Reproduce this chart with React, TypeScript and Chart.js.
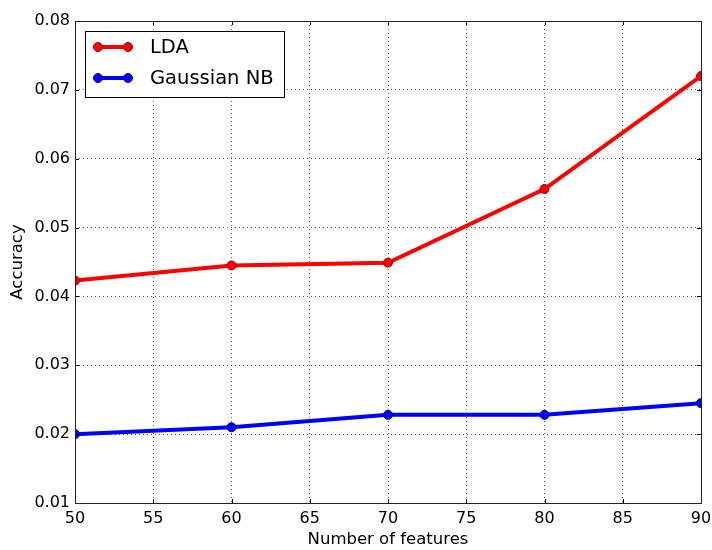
import React, { useEffect, useRef } from "react";
import { Chart, registerables } from "chart.js";

Chart.register(...registerables);

const features = [50, 60, 70, 80, 90];
const ldaAccuracy = [0.0423, 0.0445, 0.0449, 0.0556, 0.0720];
const gnbAccuracy = [0.0200, 0.0210, 0.0228, 0.0228, 0.0245];
const seriesNames = ["LDA", "Gaussian NB"];
const seriesColors = ["#ff0000", "#0000ff"];
const seriesEdges = ["#990000", "#000099"];
const xTitle = "Number of features";
const yTitle = "Accuracy";

const FONT = "'DejaVu Sans', sans-serif";

const framePlugin = {
  id: "frameTicks",
  afterDraw(chart: any) {
    const { ctx, chartArea } = chart;
    const { left, right, top, bottom } = chartArea;
    const xs = chart.scales.x;
    const ys = chart.scales.y;
    ctx.save();
    ctx.strokeStyle = "#000";
    ctx.lineWidth = 1;
    ctx.setLineDash([]);
    ctx.beginPath();
    const L = 4;
    xs.ticks.forEach((t: any) => {
      const px = Math.round(xs.getPixelForValue(t.value)) + 0.5;
      ctx.moveTo(px, bottom);
      ctx.lineTo(px, bottom - L);
      ctx.moveTo(px, top);
      ctx.lineTo(px, top + L);
    });
    ys.ticks.forEach((t: any) => {
      const py = Math.round(ys.getPixelForValue(t.value)) + 0.5;
      ctx.moveTo(left, py);
      ctx.lineTo(left + L, py);
      ctx.moveTo(right, py);
      ctx.lineTo(right - L, py);
    });
    ctx.stroke();
    ctx.strokeStyle = "#222";
    ctx.strokeRect(Math.round(left) + 0.5, Math.round(top) + 0.5, Math.round(right - left), Math.round(bottom - top));

    // legend
    const bx = 85, by = 31, bw = 199, bh = 66;
    ctx.fillStyle = "#fff";
    ctx.fillRect(bx, by, bw, bh);
    ctx.strokeStyle = "#000";
    ctx.strokeRect(bx + 0.5, by + 0.5, bw, bh);
    chart.data.datasets.forEach((ds: any, i: number) => {
      const cy = by + 16 + i * 31;
      ctx.strokeStyle = ds.borderColor;
      ctx.lineWidth = 4;
      ctx.beginPath();
      ctx.moveTo(98, cy);
      ctx.lineTo(128, cy);
      ctx.stroke();
      [98, 128].forEach((mx) => {
        ctx.beginPath();
        ctx.arc(mx, cy, 4.5, 0, Math.PI * 2);
        ctx.fillStyle = ds.pointBackgroundColor;
        ctx.fill();
        ctx.lineWidth = 1;
        ctx.strokeStyle = ds.pointBorderColor;
        ctx.stroke();
      });
      ctx.fillStyle = "#000";
      ctx.font = `19.5px ${FONT}`;
      ctx.textBaseline = "middle";
      ctx.textAlign = "left";
      ctx.fillText(ds.label, 150, cy + 1);
    });
    ctx.restore();
  },
};

export default function App() {
  const ref = useRef<HTMLCanvasElement | null>(null);
  useEffect(() => {
    if (!ref.current) return;
    const series = [ldaAccuracy, gnbAccuracy];
    const chart = new Chart(ref.current, {
      type: "line",
      data: {
        datasets: series.map((vals, i) => ({
          label: seriesNames[i],
          data: features.map((f, j) => ({ x: f, y: vals[j] })),
          borderColor: seriesColors[i],
          backgroundColor: seriesColors[i],
          pointBackgroundColor: seriesColors[i],
          pointBorderColor: seriesEdges[i],
          pointBorderWidth: 1,
          pointRadius: 4.5,
          borderWidth: 4,
          tension: 0,
          clip: 0,
        })),
      },
      options: {
        animation: false,
        responsive: true,
        maintainAspectRatio: false,
        layout: { padding: { top: 21, right: 11, left: 0, bottom: 0 } },
        plugins: { legend: { display: false }, tooltip: { enabled: false } },
        scales: {
          x: {
            type: "linear",
            min: 50,
            max: 90,
            afterFit: (s: any) => { s.height = 47; s.paddingLeft = 0; s.paddingRight = 0; },
            ticks: {
              stepSize: 5,
              color: "#000",
              padding: 6,
              maxRotation: 0,
              font: { family: FONT, size: 16 },
              callback: (v: any) => String(v),
            },
            grid: { color: "rgba(0,0,0,0.65)", drawTicks: false, lineWidth: 1 },
            border: { display: false, dash: [1, 3] },
            title: { display: true, text: xTitle, color: "#000", font: { family: FONT, size: 16.5 }, padding: { top: 0, bottom: 0 } },
          },
          y: {
            min: 0.01,
            max: 0.08,
            afterFit: (s: any) => { s.width = 75; s.paddingTop = 0; s.paddingBottom = 0; },
            ticks: {
              stepSize: 0.01,
              color: "#000",
              padding: 5,
              font: { family: FONT, size: 16 },
              callback: (v: any) => Number(v).toFixed(2),
            },
            grid: { color: "rgba(0,0,0,0.65)", drawTicks: false, lineWidth: 1 },
            border: { display: false, dash: [1, 3] },
            title: { display: true, text: yTitle, color: "#000", font: { family: FONT, size: 16.5 }, padding: { top: 8, bottom: 0 } },
          },
        },
      },
      plugins: [framePlugin],
    } as any);
    return () => chart.destroy();
  }, []);
  return (
    <div style={{ position: "fixed", left: 0, top: 0, width: 712, height: 550, background: "#fff" }}>
      <canvas ref={ref} />
    </div>
  );
}
